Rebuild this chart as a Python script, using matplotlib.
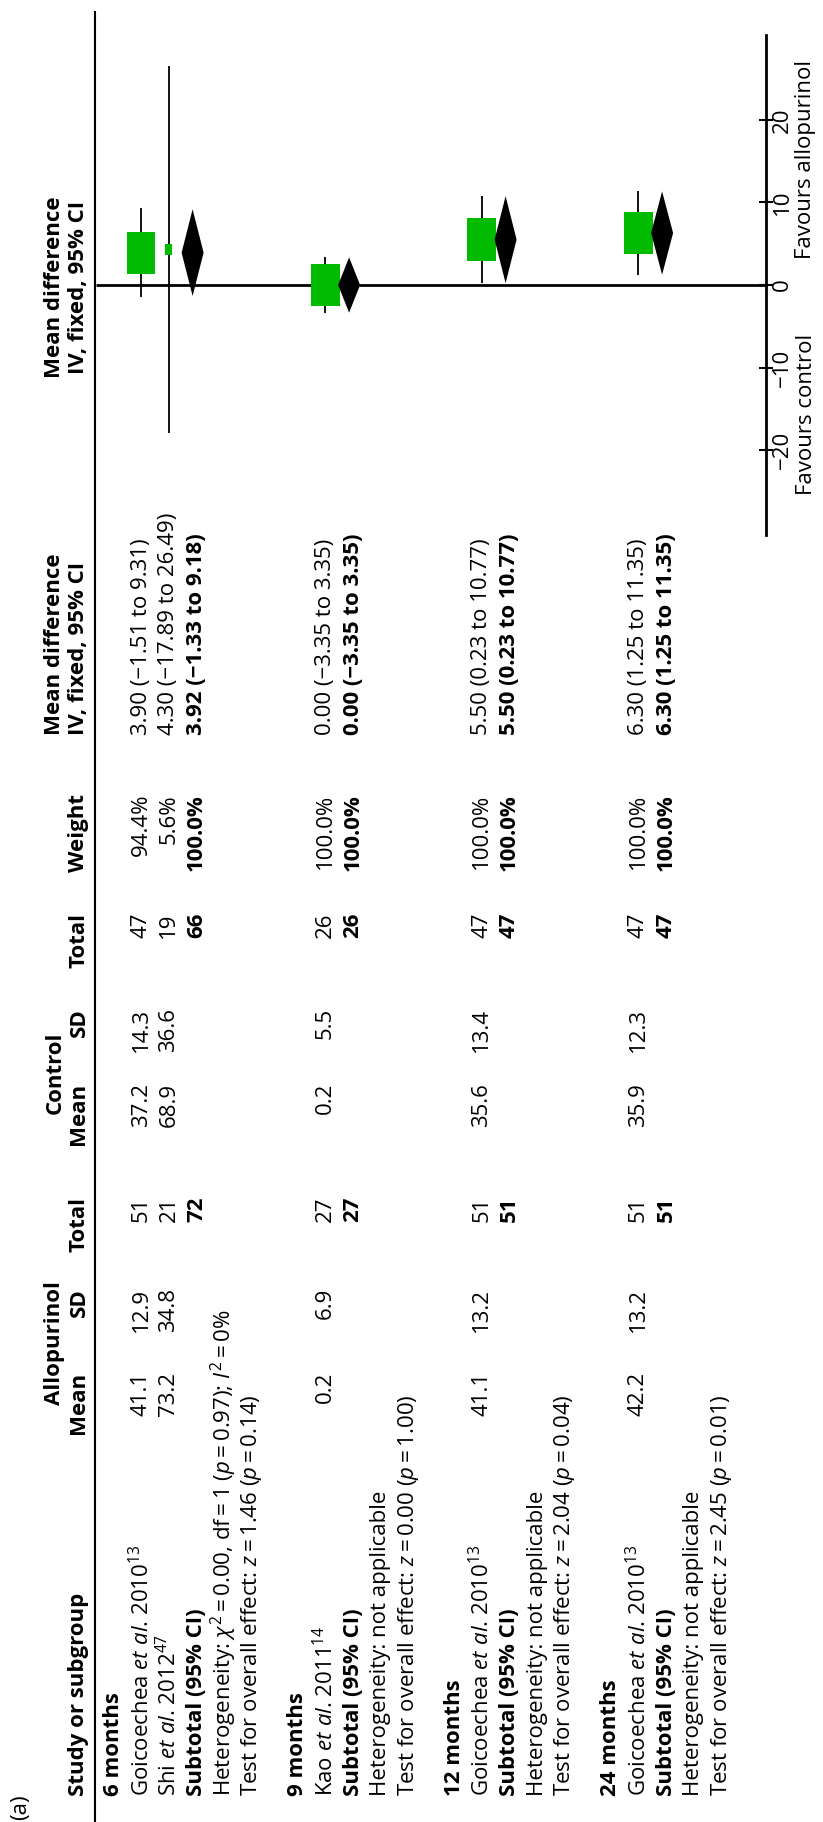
import matplotlib
matplotlib.use('Agg')
import matplotlib.pyplot as plt
from matplotlib.patches import Rectangle, Polygon

plt.rcParams['font.family'] = ['Open Sans', 'DejaVu Sans']
plt.rcParams['mathtext.fontset'] = 'custom'
plt.rcParams['mathtext.rm'] = 'Open Sans'
plt.rcParams['mathtext.it'] = 'Open Sans:italic'
plt.rcParams['mathtext.bf'] = 'Open Sans:bold'

# ---------------- data ----------------
groups = ['6 months', '9 months', '12 months', '24 months']
authors = ['Goicoechea', 'Shi', 'Kao', 'Goicoechea', 'Goicoechea']
years = [2010, 2012, 2011, 2010, 2010]
refs = [13, 47, 14, 13, 13]
study_group = [0, 0, 1, 2, 3]
allo_mean = [41.1, 73.2, 0.2, 41.1, 42.2]
allo_sd = [12.9, 34.8, 6.9, 13.2, 13.2]
allo_n = [51, 21, 27, 51, 51]
ctrl_mean = [37.2, 68.9, 0.2, 35.6, 35.9]
ctrl_sd = [14.3, 36.6, 5.5, 13.4, 12.3]
ctrl_n = [47, 19, 26, 47, 47]
weights = [94.4, 5.6, 100.0, 100.0, 100.0]
md = [3.90, 4.30, 0.00, 5.50, 6.30]
md_lo = [-1.51, -17.89, -3.35, 0.23, 1.25]
md_hi = [9.31, 26.49, 3.35, 10.77, 11.35]
sub_allo_n = [72, 27, 51, 51]
sub_ctrl_n = [66, 26, 47, 47]
sub_weight = [100.0, 100.0, 100.0, 100.0]
sub_md = [3.92, 0.00, 5.50, 6.30]
sub_lo = [-1.33, -3.35, 0.23, 1.25]
sub_hi = [9.18, 3.35, 10.77, 11.35]
het_chi2 = [0.00, None, None, None]
het_df = [1, None, None, None]
het_p = [0.97, None, None, None]
het_i2 = [0, None, None, None]
z_vals = [1.46, 0.00, 2.04, 2.45]
p_vals = [0.14, 1.00, 0.04, 0.01]
x_ticks = [-20, -10, 0, 10, 20]
x_lim = (-30.3, 30.3)

# ---------------- layout ----------------
W, H = 823, 1822
FS = 16
TS = 16
fig = plt.figure(figsize=(W / 100, H / 100), dpi=100)
ax = fig.add_axes([0, 0, 1, 1])
ax.set_xlim(0, W)
ax.set_ylim(H, 0)
ax.axis('off')

ROW0, PITCH, GGAP = 113.5, 27.7, 18.0
# column anchors (figure pixel y, text runs bottom->top)
C_STUDY = 1796
C_AMEAN, C_ASD, C_ATOT = 1372, 1288, 1197
C_CMEAN, C_CSD, C_CTOT = 1083, 1008, 913
C_WEIGHT = 794
C_MD = 735
C_FOREST = 287
HDR1, HDR2 = 55, 79
LINE_X = 95.5
AXIS_X = 766
FAV_X = 806
MINUS = '\u2212'
TH = '\u2009'


def num(v, fmt):
    s = format(v, fmt)
    return s.replace('-', MINUS)


def rtext(x, y, s, align, bold=False, size=FS):
    va = {'left': 'bottom', 'right': 'top', 'center': 'center'}[align]
    ax.text(x, y, s, rotation=90, ha='center', va=va, fontsize=size,
            fontweight='bold' if bold else 'normal')


# header
rtext(21, 1820, '(a)', 'left')
rtext(HDR2, C_STUDY, 'Study or subgroup', 'left', bold=True)
rtext(HDR1, 1343, 'Allopurinol', 'center', bold=True)
rtext(HDR2, C_AMEAN, 'Mean', 'right', bold=True)
rtext(HDR2, C_ASD, 'SD', 'right', bold=True)
rtext(HDR2, C_ATOT, 'Total', 'right', bold=True)
rtext(HDR1, 1073, 'Control', 'center', bold=True)
rtext(HDR2, C_CMEAN, 'Mean', 'right', bold=True)
rtext(HDR2, C_CSD, 'SD', 'right', bold=True)
rtext(HDR2, C_CTOT, 'Total', 'right', bold=True)
rtext(HDR2, C_WEIGHT, 'Weight', 'right', bold=True)
rtext(HDR1, C_MD, 'Mean difference', 'left', bold=True)
rtext(HDR2, C_MD, 'IV, fixed, 95% CI', 'left', bold=True)
rtext(HDR1, C_FOREST, 'Mean difference', 'center', bold=True)
rtext(HDR2, C_FOREST, 'IV, fixed, 95% CI', 'center', bold=True)
ax.plot([LINE_X, LINE_X], [11, H], color='black', lw=1.5, solid_capstyle='butt')

# forest axes: x = row position (px), y = mean difference
fa = fig.add_axes([0, 1 - 535 / H, AXIS_X / W, 500 / H])
fa.set_xlim(0, AXIS_X)
fa.set_ylim(*x_lim)
fa.patch.set_visible(False)
for sp in ['left', 'top', 'bottom']:
    fa.spines[sp].set_visible(False)
fa.spines['right'].set_linewidth(2)
fa.set_xticks([])
fa.yaxis.tick_right()
fa.set_yticks(x_ticks)
fa.set_yticklabels([num(t, 'd') for t in x_ticks], rotation=90, va='center',
                   ha='center', fontsize=TS)
fa.tick_params(axis='y', direction='inout', length=9.4, width=1.5, pad=7.4)
fa.plot([LINE_X, AXIS_X], [0, 0], color='black', lw=2, solid_capstyle='butt')
fa.text(FAV_X, 3.15, 'Favours allopurinol', rotation=90, ha='center',
        va='bottom', fontsize=FS, clip_on=False)
fa.text(FAV_X, -5.94, 'Favours control', rotation=90, ha='center',
        va='top', fontsize=FS, clip_on=False)

GREEN = '#00BB00'
BOX_W, BOX_H = 29.0, 5.2
DIA_HW, DIA_OFF = 11.0, -4.0

i = 0
for g, gname in enumerate(groups):
    def rowx():
        return ROW0 + PITCH * i + GGAP * g
    rtext(rowx(), C_STUDY, gname, 'left', bold=True)
    i += 1
    for k in range(len(authors)):
        if study_group[k] != g:
            continue
        x = rowx()
        label = (f'{authors[k]} $\\mathit{{et\\ al}}$. {years[k]}'
                 f'$^{{\\mathrm{{{refs[k]}}}}}$')
        rtext(x, C_STUDY, label, 'left')
        rtext(x, C_AMEAN, f'{allo_mean[k]:.1f}', 'right')
        rtext(x, C_ASD, f'{allo_sd[k]:.1f}', 'right')
        rtext(x, C_ATOT, f'{allo_n[k]}', 'right')
        rtext(x, C_CMEAN, f'{ctrl_mean[k]:.1f}', 'right')
        rtext(x, C_CSD, f'{ctrl_sd[k]:.1f}', 'right')
        rtext(x, C_CTOT, f'{ctrl_n[k]}', 'right')
        rtext(x, C_WEIGHT, f'{weights[k]:.1f}%', 'right')
        rtext(x, C_MD, f'{num(md[k], ".2f")} ({num(md_lo[k], ".2f")} to '
              f'{num(md_hi[k], ".2f")})', 'left')
        # forest marks
        fa.vlines(x, md_lo[k], md_hi[k], color='black', lw=1.3, zorder=2)
        s = (weights[k] / 100) ** 0.5
        fa.add_patch(Rectangle((x - BOX_W * s / 2, md[k] - BOX_H * s / 2),
                               BOX_W * s, BOX_H * s, facecolor=GREEN,
                               edgecolor='none', zorder=3))
        i += 1
    # subtotal
    x = rowx()
    rtext(x, C_STUDY, 'Subtotal (95% CI)', 'left', bold=True)
    rtext(x, C_ATOT, f'{sub_allo_n[g]}', 'right', bold=True)
    rtext(x, C_CTOT, f'{sub_ctrl_n[g]}', 'right', bold=True)
    rtext(x, C_WEIGHT, f'{sub_weight[g]:.1f}%', 'right', bold=True)
    rtext(x, C_MD, f'{num(sub_md[g], ".2f")} ({num(sub_lo[g], ".2f")} to '
          f'{num(sub_hi[g], ".2f")})', 'left', bold=True)
    xd = x + DIA_OFF
    fa.add_patch(Polygon([(xd - DIA_HW, sub_md[g]), (xd, sub_hi[g]),
                          (xd + DIA_HW, sub_md[g]), (xd, sub_lo[g])],
                         closed=True, facecolor='black', edgecolor='none',
                         zorder=3))
    i += 1
    # heterogeneity
    x = rowx()
    if het_chi2[g] is None:
        het = 'Heterogeneity: not applicable'
    else:
        het = (f'Heterogeneity: $\\chi^2${TH}={TH}{het_chi2[g]:.2f}, '
               f'df{TH}={TH}{het_df[g]} ($p${TH}={TH}{het_p[g]:.2f}); '
               f'$I^2${TH}={TH}{het_i2[g]}%')
    rtext(x, C_STUDY, het, 'left')
    i += 1
    x = rowx()
    rtext(x, C_STUDY, f'Test for overall effect: $z${TH}={TH}{z_vals[g]:.2f} '
          f'($p${TH}={TH}{p_vals[g]:.2f})', 'left')
    i += 1

fig.savefig('out.png', dpi=100)
